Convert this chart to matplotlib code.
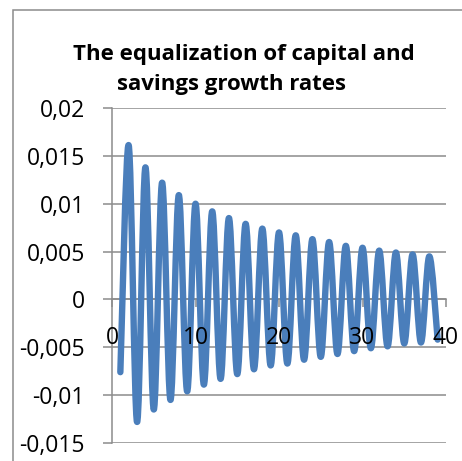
import numpy as np
import matplotlib
matplotlib.use("Agg")
import matplotlib.pyplot as plt
from matplotlib.path import Path
from matplotlib.patches import PathPatch, Rectangle
from matplotlib.ticker import FuncFormatter

plt.rcParams['font.family'] = ['Open Sans', 'DejaVu Sans']

LINE_COLOR = "#4a7ebb"
GRID_COLOR = "#8c8c8c"

# periods and growth-rate gap
periods = list(range(1, 40))
gap = [
  -0.0076, 0.0161, -0.0128, 0.0138, -0.0115, 0.0122, -0.0105, 0.0109, -0.0096, 0.0100,
  -0.0089, 0.0092, -0.0083, 0.0085, -0.0078, 0.0079, -0.0073, 0.0074, -0.0069, 0.0070,
  -0.0067, 0.0067, -0.0063, 0.0063, -0.0060, 0.0060, -0.0057, 0.0056, -0.0054, 0.0054,
  -0.0051, 0.0051, -0.0049, 0.0049, -0.0046, 0.0047, -0.0045, 0.0045, -0.0042,
]
x_ticks = [0, 10, 20, 30, 40]
y_ticks = [-0.015, -0.01, -0.005, 0, 0.005, 0.01, 0.015, 0.02]
title_lines = ["The equalization of capital and", "savings growth rates"]


def smooth_path(xs, ys):
  # excel-like smoothed line: catmull-rom segments as cubic beziers
  pts = np.column_stack([xs, ys])
  ext = np.vstack([pts[0], pts, pts[-1]])
  verts = [pts[0]]
  codes = [Path.MOVETO]
  for i in range(1, len(ext) - 2):
    p0, p1, p2, p3 = ext[i - 1], ext[i], ext[i + 1], ext[i + 2]
    verts += [p1 + (p2 - p0) / 6, p2 - (p3 - p1) / 6, p2]
    codes += [Path.CURVE4] * 3
  return Path(verts, codes)


fig = plt.figure(figsize=(4.62, 4.61), dpi=100)
fig.patches.append(Rectangle((13 / 462, -0.1), 2, 1.1 - 10 / 461,
                             transform=fig.transFigure, fill=False,
                             ec=GRID_COLOR, lw=1.1))

ax = fig.add_axes([112 / 462, 18 / 461, 334 / 462, 335 / 461])
ax.set_xlim(0, 40)
ax.set_ylim(-0.015, 0.02)
ax.set_axisbelow(True)

ax.add_patch(PathPatch(smooth_path(periods, gap), fill=False, ec=LINE_COLOR,
                       lw=4.6, capstyle='round', joinstyle='round', zorder=3))

ax.set_xticks(x_ticks)
ax.set_yticks(y_ticks)
ax.yaxis.set_major_formatter(FuncFormatter(lambda v, p: f"{v:g}".replace(".", ",")))
ax.yaxis.grid(True, color=GRID_COLOR, lw=1.1)

for s in ["top", "right"]:
  ax.spines[s].set_visible(False)
ax.spines["bottom"].set_position(("data", 0))
for s in ["left", "bottom"]:
  ax.spines[s].set_color(GRID_COLOR)
  ax.spines[s].set_linewidth(1.1)
  ax.spines[s].set_zorder(1)

ax.tick_params(axis="y", direction="out", length=6.5, width=1.1, color=GRID_COLOR,
               labelsize=16.5, pad=13)
ax.tick_params(axis="x", direction="out", length=5.5, width=1.1, color=GRID_COLOR,
               labelbottom=False)

# x labels sit on top of the line, like excel draws them
for t in x_ticks:
  ax.annotate(str(t), (t, 0), xytext=(0, -19), textcoords="offset points",
              ha="center", va="top", fontsize=16.5, zorder=4, annotation_clip=False)

fig.text(244 / 462, 1 - 60 / 461, title_lines[0], ha="center", va="baseline",
         fontsize=16, fontweight="bold")
fig.text(231.5 / 462, 1 - 90 / 461, title_lines[1], ha="center", va="baseline",
         fontsize=16, fontweight="bold")

fig.savefig("out.png", dpi=100)
